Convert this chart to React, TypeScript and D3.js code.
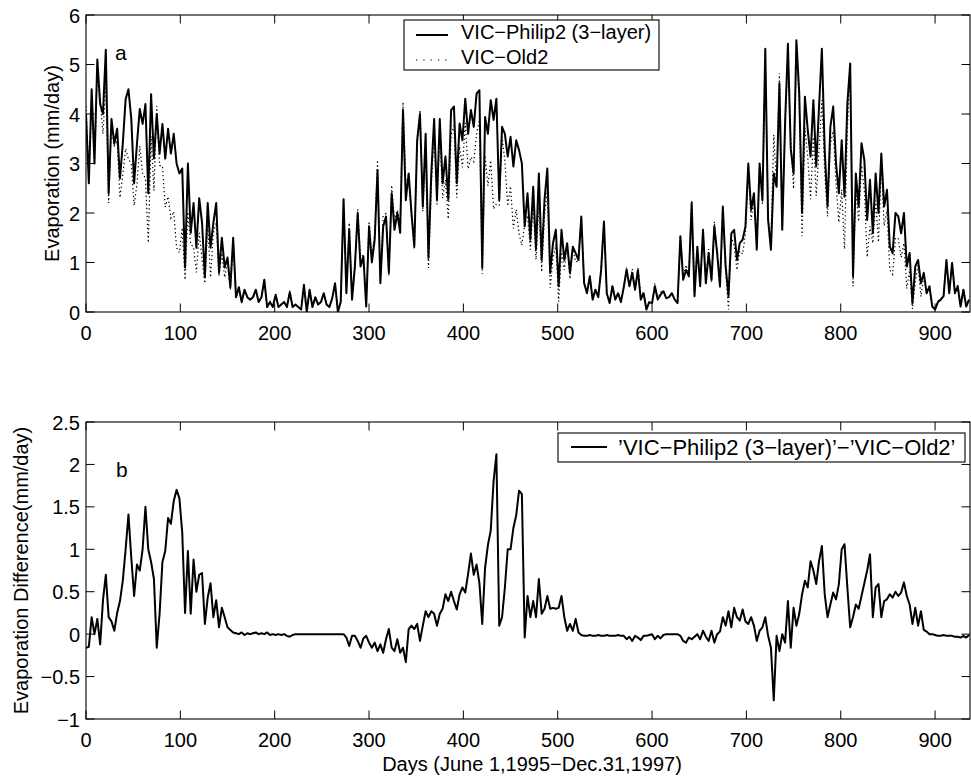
import React from 'react';
import * as d3 from 'd3';

const dayStep = 3;

// VIC-Philip2 (3-layer) evaporation, mm/day
const philipEvap = [
  4.0, 2.6, 4.5, 3.0, 5.1, 4.2, 4.0, 5.3, 2.4, 3.9,
  3.4, 3.7, 2.7, 3.4, 4.3, 4.5, 3.9, 2.6, 3.4, 4.1,
  3.8, 4.2, 2.4, 4.4, 3.1, 4.0, 3.2, 3.8, 3.1, 3.7,
  3.2, 3.6, 3.0, 2.8, 2.9, 0.9, 3.0, 1.6, 2.2, 1.3,
  2.3, 1.8, 0.7, 2.2, 1.3, 1.8, 2.2, 0.8, 1.5, 0.9,
  1.1, 0.5, 1.5, 0.3, 0.5, 0.2, 0.45, 0.3, 0.25, 0.3,
  0.45, 0.2, 0.3, 0.65, 0.1, 0.2, 0.1, 0.35, 0.1, 0.15,
  0.2, 0.1, 0.4, 0.1, 0.15, 0.1, 0.05, 0.55, 0.0, 0.45,
  0.1, 0.3, 0.15, 0.2, 0.38, 0.15, 0.1, 0.28, 0.58, 0.0,
  0.2, 2.28, 0.38, 1.66, 0.25, 0.92, 2.0, 0.92, 1.12, 0.11,
  1.73, 1.0, 1.46, 2.87, 0.58, 1.73, 1.93, 0.79, 2.4, 1.66,
  2.0, 1.6, 4.08, 2.26, 2.8, 2.0, 1.32, 3.47, 4.0, 2.13,
  3.6, 1.09, 2.8, 3.9, 2.27, 3.9, 2.6, 3.14, 2.27, 4.08,
  4.15, 2.6, 3.81, 3.47, 4.31, 3.6, 4.08, 3.74, 4.41, 4.48,
  0.89, 3.94, 3.6, 4.28, 3.88, 4.31, 2.26, 3.74, 3.6, 3.14,
  3.54, 2.94, 3.47, 3.27, 3.0, 1.73, 2.4, 1.46, 2.53, 1.26,
  2.8, 1.05, 2.26, 2.9, 0.79, 1.39, 1.66, 0.52, 1.66, 1.05,
  1.39, 0.79, 1.32, 1.19, 1.05, 1.93, 0.58, 0.38, 0.72, 0.25,
  0.45, 0.3, 0.85, 1.83, 0.38, 0.18, 0.52, 0.25, 0.38, 0.2,
  0.5, 0.85, 0.52, 0.79, 0.45, 0.85, 0.25, 0.38, 0.05, 0.2,
  0.18, 0.52, 0.25, 0.35, 0.42, 0.28, 0.3, 0.38, 0.25, 0.18,
  1.53, 0.65, 0.85, 0.72, 2.2, 0.32, 1.32, 0.52, 1.66, 0.58,
  1.19, 0.65, 1.73, 1.19, 0.52, 2.13, 0.92, 0.32, 1.59, 1.66,
  1.05, 1.39, 1.46, 1.73, 3.0, 2.06, 2.4, 1.26, 3.0, 2.26,
  5.32, 1.86, 1.26, 2.8, 2.53, 4.62, 1.66, 3.81, 5.42, 3.3,
  2.8, 5.49, 4.42, 2.0, 4.35, 3.68, 3.14, 4.28, 2.94, 4.15,
  5.32, 3.27, 2.13, 3.74, 4.15, 3.0, 2.4, 3.47, 2.33, 4.21,
  5.02, 0.72, 2.8, 2.13, 3.41, 3.07, 1.86, 2.67, 1.59, 2.8,
  2.0, 3.2, 2.13, 2.47, 1.32, 1.19, 2.0, 1.93, 1.59, 2.0,
  0.92, 1.19, 0.18, 0.92, 1.05, 0.58, 0.79, 0.38, 0.52, 0.11,
  0.05, 0.2, 0.25, 0.32, 1.05, 0.38, 0.99, 0.38, 0.52, 0.11,
  0.45, 0.11, 0.25,
];

// VIC-Old2 evaporation, mm/day
const old2Evap = [
  4.16, 2.75, 4.3, 3.0, 4.92, 4.32, 3.6, 4.6, 2.2, 3.75,
  3.36, 3.45, 2.31, 2.77, 3.3, 3.09, 3.0, 2.15, 2.58, 3.35,
  2.8, 2.7, 1.4, 3.55, 2.45, 4.16, 2.96, 2.95, 2.12, 2.33,
  1.9, 2.03, 1.3, 1.2, 1.7, 0.65, 2.02, 1.36, 1.32, 0.8,
  1.6, 1.08, 0.58, 1.77, 0.7, 1.6, 1.8, 0.72, 1.19, 0.7,
  1.02, 0.45, 1.48, 0.29, 0.5, 0.18, 0.46, 0.29, 0.25, 0.29,
  0.43, 0.2, 0.29, 0.65, 0.08, 0.21, 0.1, 0.36, 0.1, 0.16,
  0.2, 0.12, 0.43, 0.11, 0.15, 0.1, 0.05, 0.55, 0.0, 0.45,
  0.1, 0.3, 0.15, 0.2, 0.38, 0.15, 0.1, 0.28, 0.58, 0.0,
  0.2, 2.28, 0.42, 1.8, 0.27, 0.94, 2.08, 1.08, 1.17, 0.13,
  1.83, 1.16, 1.56, 3.07, 0.7, 1.95, 1.99, 0.73, 2.56, 1.86,
  2.06, 1.82, 4.24, 2.59, 2.74, 1.9, 1.26, 3.35, 4.08, 2.03,
  3.33, 0.89, 2.53, 3.66, 2.17, 3.66, 2.3, 2.67, 1.88, 3.58,
  3.76, 2.31, 3.34, 2.92, 3.82, 2.89, 3.13, 3.04, 3.59, 3.88,
  0.77, 3.16, 2.55, 3.06, 2.08, 2.19, 2.16, 3.54, 3.05, 2.14,
  2.54, 1.69, 2.07, 1.58, 1.35, 1.77, 1.95, 1.26, 2.14, 1.06,
  2.15, 0.81, 1.96, 2.45, 0.49, 1.08, 1.36, 0.21, 1.21, 0.85,
  1.35, 0.67, 1.28, 1.01, 1.03, 1.94, 0.6, 0.4, 0.73, 0.27,
  0.47, 0.31, 0.87, 1.85, 0.39, 0.2, 0.54, 0.27, 0.39, 0.22,
  0.52, 0.91, 0.55, 0.87, 0.47, 0.89, 0.32, 0.4, 0.07, 0.21,
  0.18, 0.58, 0.27, 0.4, 0.43, 0.28, 0.3, 0.38, 0.25, 0.18,
  1.55, 0.73, 0.95, 0.76, 2.26, 0.35, 1.32, 0.58, 1.62, 0.61,
  1.27, 0.61, 1.83, 1.19, 0.49, 1.93, 0.82, 0.05, 1.51, 1.35,
  0.85, 1.23, 1.17, 1.58, 2.88, 1.86, 2.3, 1.34, 2.96, 2.18,
  5.12, 1.88, 1.42, 3.58, 2.55, 4.82, 1.66, 3.91, 5.03, 3.46,
  2.49, 5.39, 4.18, 1.53, 3.72, 3.13, 2.28, 3.53, 2.35, 3.29,
  4.28, 2.8, 1.93, 3.39, 3.66, 2.59, 1.81, 2.47, 1.27, 3.66,
  4.94, 0.52, 2.45, 1.83, 2.96, 2.47, 1.11, 1.73, 1.39, 2.25,
  1.41, 3.0, 1.74, 2.06, 0.85, 0.76, 1.5, 1.48, 1.1, 1.39,
  0.47, 0.84, 0.06, 0.61, 0.95, 0.31, 0.74, 0.35, 0.52, 0.11,
  0.06, 0.22, 0.27, 0.33, 1.07, 0.4, 1.01, 0.41, 0.55, 0.15,
  0.47, 0.15, 0.26,
];

// 'VIC-Philip2 (3-layer)' - 'VIC-Old2', mm/day
const evapDiff = [
  -0.16, -0.15, 0.2, 0.0, 0.18, -0.12, 0.4, 0.7, 0.2, 0.15,
  0.04, 0.25, 0.39, 0.63, 1.0, 1.41, 0.9, 0.45, 0.82, 0.75,
  1.0, 1.5, 1.0, 0.85, 0.65, -0.16, 0.24, 0.85, 0.98, 1.37,
  1.3, 1.57, 1.7, 1.6, 1.2, 0.25, 0.98, 0.24, 0.88, 0.5,
  0.7, 0.72, 0.12, 0.43, 0.6, 0.2, 0.4, 0.08, 0.31, 0.2,
  0.08, 0.05, 0.02, 0.01, 0.0, 0.02, -0.01, 0.01, 0.0, 0.01,
  0.02, 0.0, 0.01, 0.0, 0.02, -0.01, 0.0, -0.01, 0.0, -0.01,
  0.0, -0.02, -0.03, -0.01, 0.0, 0.0, 0.0, 0.0, 0.0, 0.0,
  0.0, 0.0, 0.0, 0.0, 0.0, 0.0, 0.0, 0.0, 0.0, 0.0,
  0.0, 0.0, -0.04, -0.14, -0.02, -0.02, -0.08, -0.16, -0.05, -0.02,
  -0.1, -0.16, -0.1, -0.2, -0.12, -0.22, -0.06, 0.06, -0.16, -0.2,
  -0.06, -0.22, -0.16, -0.33, 0.06, 0.1, 0.06, 0.12, -0.08, 0.1,
  0.27, 0.2, 0.27, 0.24, 0.1, 0.24, 0.3, 0.47, 0.39, 0.5,
  0.39, 0.29, 0.47, 0.55, 0.49, 0.71, 0.95, 0.7, 0.82, 0.6,
  0.12, 0.78, 1.05, 1.22, 1.8, 2.12, 0.1, 0.2, 0.55, 1.0,
  1.0, 1.25, 1.4, 1.69, 1.65, -0.04, 0.45, 0.2, 0.39, 0.2,
  0.65, 0.24, 0.3, 0.45, 0.3, 0.31, 0.3, 0.31, 0.45, 0.2,
  0.04, 0.12, 0.04, 0.18, 0.02, -0.01, -0.02, -0.02, -0.01, -0.02,
  -0.02, -0.01, -0.02, -0.02, -0.01, -0.02, -0.02, -0.02, -0.01, -0.02,
  -0.02, -0.06, -0.03, -0.08, -0.02, -0.04, -0.07, -0.02, -0.02, -0.01,
  0.0, -0.06, -0.02, -0.05, -0.01, 0.0, 0.0, 0.0, 0.0, 0.0,
  -0.02, -0.08, -0.1, -0.04, -0.06, -0.03, 0.0, -0.06, 0.04, -0.03,
  -0.08, 0.04, -0.1, 0.0, 0.03, 0.2, 0.1, 0.27, 0.08, 0.31,
  0.2, 0.16, 0.29, 0.15, 0.12, 0.2, 0.1, -0.08, 0.04, 0.08,
  0.2, -0.02, -0.16, -0.78, -0.02, -0.2, 0.0, -0.1, 0.39, -0.16,
  0.31, 0.1, 0.24, 0.47, 0.63, 0.55, 0.86, 0.75, 0.59, 0.86,
  1.04, 0.47, 0.2, 0.35, 0.49, 0.41, 0.59, 1.0, 1.06, 0.55,
  0.08, 0.2, 0.35, 0.3, 0.45, 0.6, 0.75, 0.94, 0.2, 0.55,
  0.59, 0.2, 0.39, 0.41, 0.47, 0.43, 0.5, 0.45, 0.49, 0.61,
  0.45, 0.35, 0.12, 0.31, 0.1, 0.27, 0.05, 0.03, 0.0, 0.0,
  -0.01, -0.02, -0.02, -0.01, -0.02, -0.02, -0.02, -0.03, -0.03, -0.04,
  -0.02, -0.04, -0.01,
];

const xTicks = [0, 100, 200, 300, 400, 500, 600, 700, 800, 900];
const topYTicks = [0, 1, 2, 3, 4, 5, 6];
const bottomYTicks = [-1, -0.5, 0, 0.5, 1, 1.5, 2, 2.5];

const topLegend = ['VIC\u2212Philip2 (3\u2212layer)', 'VIC\u2212Old2'];
const bottomLegend = '\u2019VIC\u2212Philip2 (3\u2212layer)\u2019\u2212\u2019VIC\u2212Old2\u2019';
const topYLabel = 'Evaporation (mm/day)';
const bottomYLabel = 'Evaporation Difference(mm/day)';
const xLabel = 'Days (June 1,1995\u2212Dec.31,1997)';

const W = 971;
const H = 778;
const PL = 86;
const PR = 970;
const TICK = 8.5;
const FONT = 'Liberation Sans, Arial, Helvetica, sans-serif';

const fmt = (v: number) => (v < 0 ? '\u2212' : '') + String(Math.abs(v));

function Frame({ y, yTicks, top, bottom, x }: any) {
  return (
    <g>
      <rect x={PL} y={top} width={PR - PL} height={bottom - top} fill="none" stroke="#000" strokeWidth={1.1} />
      {xTicks.map((t) => (
        <g key={'x' + t}>
          <line x1={x(t)} x2={x(t)} y1={bottom} y2={bottom - TICK} stroke="#000" strokeWidth={1} />
          <line x1={x(t)} x2={x(t)} y1={top} y2={top + TICK} stroke="#000" strokeWidth={1} />
          <text x={x(t)} y={bottom + 28} textAnchor="middle" fontSize={20} fontFamily={FONT} fill="#000">
            {fmt(t)}
          </text>
        </g>
      ))}
      {yTicks.map((t: number) => (
        <g key={'y' + t}>
          <line x1={PL} x2={PL + TICK} y1={y(t)} y2={y(t)} stroke="#000" strokeWidth={1} />
          <line x1={PR} x2={PR - TICK} y1={y(t)} y2={y(t)} stroke="#000" strokeWidth={1} />
          <text x={80} y={y(t) + 7.5} textAnchor="end" fontSize={20} fontFamily={FONT} fill="#000">
            {fmt(t)}
          </text>
        </g>
      ))}
    </g>
  );
}

export default function App() {
  const x = d3.scaleLinear().domain([0, 937]).range([PL, PR]);
  const yTop = d3.scaleLinear().domain([0, 6]).range([312, 15]);
  const yBot = d3.scaleLinear().domain([-1, 2.5]).range([719, 422]);

  const topLine = d3
    .line<number>()
    .x((_, i) => x(i * dayStep))
    .y((d) => yTop(d));
  const botLine = d3
    .line<number>()
    .x((_, i) => x(i * dayStep))
    .y((d) => yBot(d));

  return (
    <svg
      width={W}
      height={H}
      viewBox={`0 0 ${W} ${H}`}
      style={{ position: 'absolute', left: 0, top: 0, display: 'block', background: '#fff' }}
    >
      <defs>
        <clipPath id="clipTop">
          <rect x={PL} y={15} width={PR - PL} height={297} />
        </clipPath>
        <clipPath id="clipBot">
          <rect x={PL} y={422} width={PR - PL} height={297} />
        </clipPath>
      </defs>
      <rect x={0} y={0} width={W} height={H} fill="#fff" />

      {/* Panel a */}
      <g clipPath="url(#clipTop)">
        <path d={topLine(philipEvap) || ''} fill="none" stroke="#000" strokeWidth={2} strokeLinejoin="round" />
        <path
          d={topLine(old2Evap) || ''}
          fill="none"
          stroke="#000"
          strokeWidth={1.2}
          strokeDasharray="1.3 2.7"
        />
      </g>
      <Frame x={x} y={yTop} yTicks={topYTicks} top={15} bottom={312} />
      <text x={115} y={60} fontSize={21} fontFamily={FONT} fill="#000">a</text>
      <text
        transform="translate(59,163.5) rotate(-90)"
        textAnchor="middle"
        fontSize={20}
        fontFamily={FONT}
        fill="#000"
      >
        {topYLabel}
      </text>
      <g>
        <rect x={404} y={20} width={255} height={50} fill="#fff" stroke="#000" strokeWidth={1.1} />
        <line x1={416} x2={448} y1={35} y2={35} stroke="#000" strokeWidth={2} />
        <text x={461} y={38.5} fontSize={20} fontFamily={FONT} fill="#000">{topLegend[0]}</text>
        <line x1={416} x2={449} y1={60} y2={60} stroke="#000" strokeWidth={1.2} strokeDasharray="1.3 6" />
        <text x={461} y={63.5} fontSize={20} fontFamily={FONT} fill="#000">{topLegend[1]}</text>
      </g>

      {/* Panel b */}
      <g clipPath="url(#clipBot)">
        <path d={botLine(evapDiff) || ''} fill="none" stroke="#000" strokeWidth={2} strokeLinejoin="round" />
      </g>
      <Frame x={x} y={yBot} yTicks={bottomYTicks} top={422} bottom={719} />
      <text x={116} y={477} fontSize={21} fontFamily={FONT} fill="#000">b</text>
      <text
        transform="translate(28,570.5) rotate(-90)"
        textAnchor="middle"
        fontSize={20}
        fontFamily={FONT}
        fill="#000"
      >
        {bottomYLabel}
      </text>
      <g>
        <rect x={558} y={433} width={407} height={29} fill="#fff" stroke="#000" strokeWidth={1.1} />
        <line x1={571} x2={607} y1={447} y2={447} stroke="#000" strokeWidth={2} />
        <text x={618} y={455} fontSize={22} fontFamily={FONT} fill="#000">{bottomLegend}</text>
      </g>
      <text x={532} y={771} textAnchor="middle" fontSize={20} fontFamily={FONT} fill="#000">
        {xLabel}
      </text>
    </svg>
  );
}
